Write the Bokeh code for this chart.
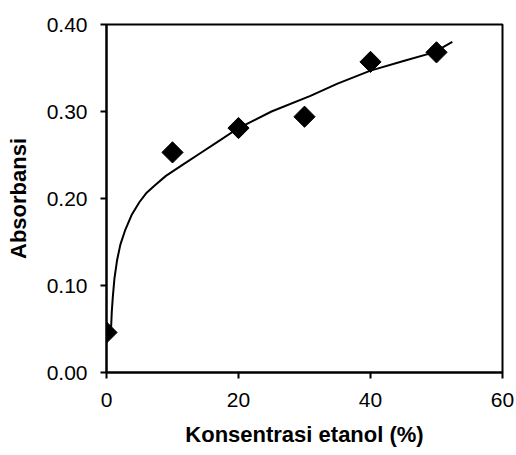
import math
from bokeh.plotting import figure
from bokeh.models import Range1d, FixedTicker
from bokeh.embed import file_html
from bokeh.resources import INLINE

# data
konsentrasi = [0, 10, 20, 30, 40, 50]
absorbansi = [0.046, 0.253, 0.281, 0.294, 0.357, 0.368]

# trend line
trend_x = [0.7, 0.8, 0.96, 1.2, 1.6, 2.1, 2.8, 3.8, 5.0, 6.0, 7.3, 9.0, 11.8,
           14.2, 17, 20, 25, 30.9, 35, 40, 45, 49.6, 52.4]
trend_y = [0.052, 0.070, 0.087, 0.108, 0.129, 0.147, 0.163, 0.181, 0.196, 0.206,
           0.215, 0.226, 0.240, 0.252, 0.266, 0.281, 0.300, 0.318, 0.332, 0.347,
           0.358, 0.368, 0.380]

x_ticks = [0, 20, 40, 60]
y_ticks = [0.0, 0.1, 0.2, 0.3, 0.4]
y_labels = {0.0: "0.00", 0.1: "0.10", 0.2: "0.20", 0.3: "0.30", 0.4: "0.40"}

p = figure(width=516, height=455, output_backend="svg", toolbar_location=None,
           x_range=Range1d(0, 60), y_range=Range1d(0, 0.4))
p.min_border_left = 106
p.min_border_top = 24
p.min_border_right = 14
p.min_border_bottom = 83

p.grid.visible = False
p.outline_line_color = "black"
p.outline_line_width = 2
p.background_fill_color = "white"
p.border_fill_color = "white"

p.line(trend_x, trend_y, line_color="black", line_width=2)
p.scatter(konsentrasi, absorbansi, marker="square", size=15, angle=math.pi / 4,
          fill_color="black", line_color="black")

font = "Liberation Sans"
for ax in (p.xaxis[0], p.yaxis[0]):
    ax.axis_line_color = "black"
    ax.axis_line_width = 2
    ax.major_tick_line_color = "black"
    ax.major_tick_line_width = 2
    ax.major_tick_out = 6
    ax.major_tick_in = 0
    ax.minor_tick_line_color = None
    ax.major_label_text_font = font
    ax.major_label_text_font_size = "21px"
    ax.major_label_text_color = "black"
    ax.axis_label_text_font = font
    ax.axis_label_text_font_size = "22px"
    ax.axis_label_text_font_style = "bold"
    ax.axis_label_text_color = "black"

p.xaxis.ticker = FixedTicker(ticks=x_ticks)
p.yaxis.ticker = FixedTicker(ticks=y_ticks)
p.yaxis.major_label_overrides = y_labels
p.xaxis.major_label_standoff = 14
p.yaxis.major_label_standoff = 13
p.xaxis.axis_label = "Konsentrasi etanol (%)"
p.yaxis.axis_label = "Absorbansi"
p.xaxis.axis_label_standoff = 12
p.yaxis.axis_label_standoff = 13

open("out.html", "w").write(file_html(p, INLINE))
